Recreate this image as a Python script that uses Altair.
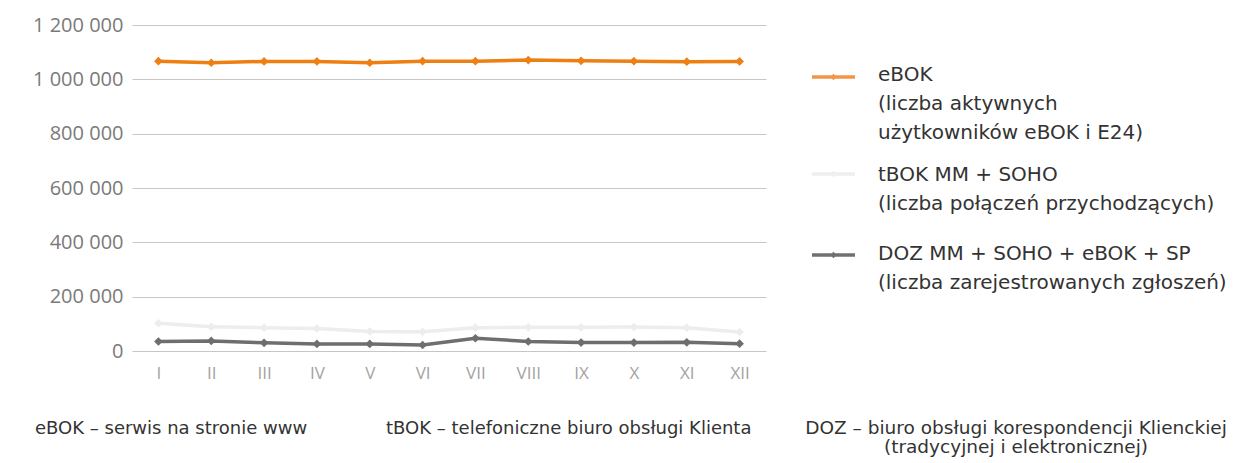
import altair as alt
import pandas as pd

months = ["I", "II", "III", "IV", "V", "VI", "VII", "VIII", "IX", "X", "XI", "XII"]
series_names = ["eBOK", "tBOK MM + SOHO", "DOZ MM + SOHO + eBOK + SP"]
ebok = [1067000, 1061000, 1066000, 1066000, 1061000, 1067000, 1067000, 1071000, 1068000, 1067000, 1065000, 1066000]
tbok = [102000, 89000, 86000, 83000, 72000, 71000, 86000, 87000, 87000, 88000, 86000, 70000]
doz = [35000, 37000, 30000, 26000, 26000, 22000, 47000, 35000, 31000, 31000, 32000, 27000]
colors = ["#EE7F12", "#EDEDED", "#6E6E6E"]
legend_colors = ["#F39546", "#EEEEEE", "#707070"]
y_ticks = [0, 200000, 400000, 600000, 800000, 1000000, 1200000]

legend_texts = [
    "eBOK\n(liczba aktywnych\nużytkowników eBOK i E24)",
    "tBOK MM + SOHO\n(liczba połączeń przychodzących)",
    "DOZ MM + SOHO + eBOK + SP\n(liczba zarejestrowanych zgłoszeń)",
]
foot_texts = [
    "eBOK – serwis na stronie www",
    "tBOK – telefoniczne biuro obsługi Klienta",
    "DOZ – biuro obsługi korespondencji Klienckiej\n(tradycyjnej i elektronicznej)",
]

rows = []
for name, vals in zip(series_names, [ebok, tbok, doz]):
    for m, v in zip(months, vals):
        rows.append({"month": m, "series": name, "value": v})
df = pd.DataFrame(rows)

W, H = 634, 326
FONT = "Open Sans"
TFONT = "DejaVu Sans"

base = alt.Chart(df).encode(
    x=alt.X("month:N", sort=months, scale=alt.Scale(type="point", padding=0.5),
            axis=alt.Axis(title=None, domain=False, ticks=False, grid=False, labelAngle=0,
                          labelColor="#A3A3A3", labelFontSize=17, labelFont=FONT,
                          labelPadding=14)),
    y=alt.Y("value:Q", scale=alt.Scale(domain=[0, 1200000], nice=False),
            axis=alt.Axis(title=None, domain=False, ticks=False, values=y_ticks,
                          gridColor="#C6C6C6", gridWidth=1.2,
                          labelColor="#7A7A7A", labelFontSize=20, labelFont=FONT,
                          labelPadding=9,
                          labelExpr="replace(replace(format(datum.value, ','), ',', ' '), ',', ' ')")),
    color=alt.Color("series:N", scale=alt.Scale(domain=series_names, range=colors), legend=None),
    detail="series:N",
)

lines = base.mark_line(strokeWidth=3.5)
points = base.mark_point(shape="diamond", filled=True, size=75, opacity=1)

one = pd.DataFrame({"k": [0]})
layers = [lines, points]

leg_line_y = [52, 149, 230]
leg_text_y = [50, 150, 229]
for i in range(3):
    layers.append(alt.Chart(one).mark_rule(strokeWidth=3.5, color=legend_colors[i]).encode(
        x=alt.value(680), x2=alt.value(723), y=alt.value(leg_line_y[i])))
    layers.append(alt.Chart(one).mark_point(shape="diamond", filled=True, size=40, opacity=1,
                                            color=legend_colors[i]).encode(
        x=alt.value(701.5), y=alt.value(leg_line_y[i])))
    layers.append(alt.Chart(one).mark_text(align="left", baseline="middle", lineBreak="\n",
                                           lineHeight=29, fontSize=20, font=TFONT,
                                           color="#333333").encode(
        x=alt.value(746), y=alt.value(leg_text_y[i]), text=alt.value(legend_texts[i])))

layers.append(alt.Chart(one).mark_text(align="left", baseline="middle", fontSize=18, font=TFONT,
                                       color="#333333").encode(
    x=alt.value(-97), y=alt.value(404), text=alt.value(foot_texts[0])))
layers.append(alt.Chart(one).mark_text(align="left", baseline="middle", fontSize=18, font=TFONT,
                                       color="#333333").encode(
    x=alt.value(254), y=alt.value(404), text=alt.value(foot_texts[1])))
layers.append(alt.Chart(one).mark_text(align="center", baseline="middle", lineBreak="\n", lineHeight=19,
                                       fontSize=18.5, font=TFONT, color="#333333").encode(
    x=alt.value(884), y=alt.value(403), text=alt.value(foot_texts[2])))

chart = alt.layer(*layers).properties(
    width=W, height=H,
    autosize=alt.AutoSizeParams(type="none"),
    padding={"left": 124, "top": 17, "right": 469, "bottom": 108},
).configure(background="white").configure_view(stroke=None)

chart.save("out.html", embed_options={"renderer": "svg", "actions": False})
